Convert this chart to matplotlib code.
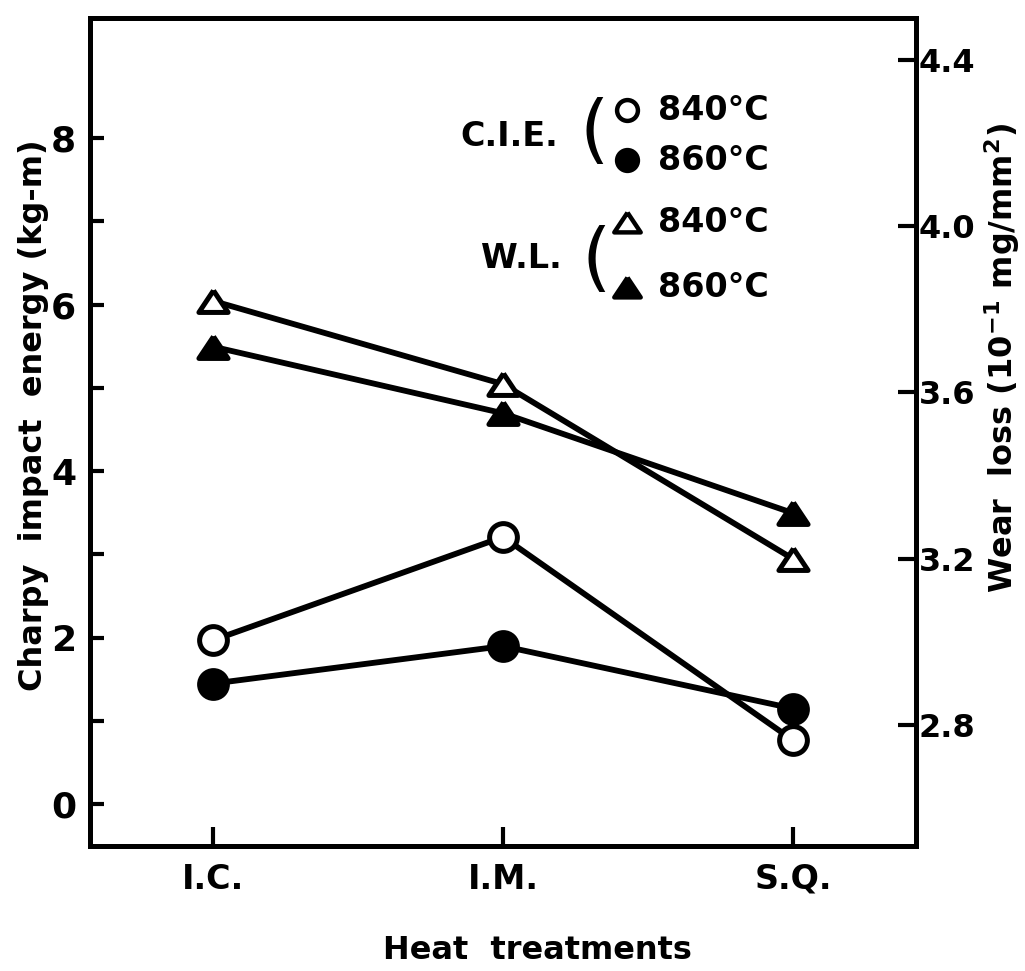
import matplotlib
matplotlib.use("Agg")
import matplotlib.pyplot as plt
from matplotlib.ticker import FixedLocator

plt.rcParams['font.family'] = ['DejaVu Sans']
plt.rcParams['font.weight'] = 'bold'
plt.rcParams['mathtext.default'] = 'bf'

# データ
categories = ['I.C.', 'I.M.', 'S.Q.']
cie_840 = [1.97, 3.21, 0.77]   # Charpy impact energy (kg-m)
cie_860 = [1.45, 1.90, 1.15]
wl_840 = [3.82, 3.62, 3.20]    # Wear loss (10^-1 mg/mm^2)
wl_860 = [3.71, 3.55, 3.31]

left_ticks = [0, 2, 4, 6, 8]
left_minor = [1, 3, 5, 7]
right_ticks = [2.8, 3.2, 3.6, 4.0, 4.4]

# 三角マーカー (少し横長, 閉じたパス)
tri = [(0, 0.75), (-1, -0.75), (1, -0.75), (0, 0.75)]

fig = plt.figure(figsize=(10.25, 9.71), dpi=100)
ax = fig.add_axes([0.0878, 0.1287, 0.8059, 0.8528])
ax2 = ax.twinx()

x = list(range(len(categories)))
lw = 4.2
ms = 20
mew = 3.6

ax.plot(x, cie_840, color='black', lw=lw, marker='o', ms=ms,
        mfc='white', mec='black', mew=mew, zorder=3)
ax.plot(x, cie_860, color='black', lw=lw, marker='o', ms=ms,
        mfc='black', mec='black', mew=mew, zorder=3)
ax2.plot(x, wl_840, color='black', lw=lw, marker=tri, ms=21,
         mfc='white', mec='black', mew=mew, zorder=3)
ax2.plot(x, wl_860, color='black', lw=lw, marker=tri, ms=21,
         mfc='black', mec='black', mew=mew, zorder=3)

ax.set_xlim(-0.424, 2.424)
ax.set_ylim(-0.5, 9.44)
ax2.set_ylim(2.51, 4.5)

for a in (ax, ax2):
    for s in a.spines.values():
        s.set_linewidth(3.6)

ax.set_xticks(x)
ax.set_xticklabels(categories)
ax.set_yticks(left_ticks)
ax.yaxis.set_minor_locator(FixedLocator(left_minor))
ax.tick_params(axis='y', which='both', direction='in', length=10, width=3,
               labelsize=26, pad=10)
ax.tick_params(axis='x', direction='in', length=14, width=3,
               labelsize=24, pad=12)
ax2.set_yticks(right_ticks)
ax2.set_yticklabels([f"{t:.1f}" for t in right_ticks])
ax2.tick_params(axis='y', direction='in', length=13, width=3,
                labelsize=23, pad=2)

fig.text(0.033, 0.572, "Charpy  impact  energy (kg-m)", rotation=90,
         ha='center', va='center', fontsize=23)
fig.text(0.978, 0.631, r"Wear  loss ($10^{-1}$ mg/mm$^2$)",
         rotation=90, ha='center', va='center', fontsize=23)
fig.text(0.524, 0.021, "Heat  treatments", ha='center', va='center',
         fontsize=23)

# 凡例
W, H = 1025, 971
def fx(px):
    return px / W
def fy(py):
    return (H - py) / H

leg = [
    ('o', 'white', 15, 110, "840°C"),
    ('o', 'black', 15, 160, "860°C"),
    (tri, 'white', 19, 222, "840°C"),
    (tri, 'black', 19, 287, "860°C"),
]
for mk, fc, size, py, label in leg:
    fig.lines.append(plt.Line2D([fx(627)], [fy(py)], marker=mk, ms=size,
                                mfc=fc, mec='black', mew=3.2,
                                transform=fig.transFigure, figure=fig))
    fig.text(fx(658), fy(py), label, ha='left', va='center', fontsize=24)

fig.text(fx(558), fy(137), "C.I.E.", ha='right', va='center', fontsize=24)
fig.text(fx(562), fy(258), "W.L.", ha='right', va='center', fontsize=24)
fig.text(fx(594), fy(133), "(", ha='center', va='center', fontsize=54,
         fontweight='normal')
fig.text(fx(596), fy(262), "(", ha='center', va='center', fontsize=54,
         fontweight='normal')

plt.savefig("out.png", dpi=100)
